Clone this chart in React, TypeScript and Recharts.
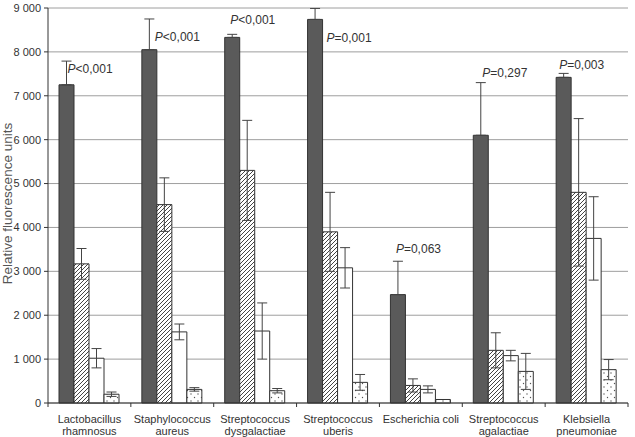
import { BarChart, Bar, XAxis, YAxis, CartesianGrid, ErrorBar, LabelList } from "recharts";

const categories: string[][] = [
  ["Lactobacillus", "rhamnosus"],
  ["Staphylococcus", "aureus"],
  ["Streptococcus", "dysgalactiae"],
  ["Streptococcus", "uberis"],
  ["Escherichia coli"],
  ["Streptococcus", "agalactiae"],
  ["Klebsiella", "pneumoniae"],
];

const solidMean = [7250, 8050, 8330, 8740, 2470, 6100, 7420];
const solidErr = [540, 700, 70, 250, 760, 1200, 90];
const hatchMean = [3170, 4520, 5300, 3900, 400, 1200, 4800];
const hatchErr = [350, 610, 1140, 900, 150, 400, 1680];
const openMean = [1020, 1620, 1640, 3080, 310, 1080, 3750];
const openErr = [220, 180, 640, 460, 80, 120, 950];
const dotMean = [200, 310, 280, 470, 80, 720, 760];
const dotErr = [50, 40, 50, 180, 0, 410, 230];

const pValues = ["<0,001", "<0,001", "<0,001", "=0,001", "=0,063", "=0,297", "=0,003"];

const yTicks = [0, 1000, 2000, 3000, 4000, 5000, 6000, 7000, 8000, 9000];

// where each P label sits relative to the top of the solid bar's whisker
const pLabelShift: [number, number][] = [
  [1, 12], [5.5, 22], [-2, -10], [11.5, 34], [-2, -8], [1.5, -6], [-4.5, -4.5],
];

const data = categories.map((lines, i) => ({
  name: lines.join(" "),
  lines,
  solid: solidMean[i],
  solidErr: [0, solidErr[i]],
  hatch: hatchMean[i],
  hatchErr: hatchErr[i],
  open: openMean[i],
  openErr: openErr[i],
  dot: dotMean[i],
  dotErr: dotErr[i],
}));

const FONT = "'Liberation Sans', Arial, sans-serif";
const INK = "#333";
const W = 635;
const H = 437;
const M = { top: 8, right: 7, left: 0, bottom: 0 };
const Y_AXIS_W = 48;
const BAND = (W - M.left - M.right - Y_AXIS_W) / categories.length;

const fmt = (v: number) => (v >= 1000 ? `${Math.floor(v / 1000)} ${String(v % 1000).padStart(3, "0")}` : String(v));

function CategoryTick(props: any) {
  const { x, y, payload, index } = props;
  const lines: string[] = categories[index] ?? [payload.value];
  const axisY = y - 8;
  return (
    <g>
      <line x1={x - BAND / 2} x2={x - BAND / 2} y1={axisY} y2={axisY + 4} stroke={INK} />
      {index === categories.length - 1 && (
        <line x1={x + BAND / 2} x2={x + BAND / 2} y1={axisY} y2={axisY + 4} stroke={INK} />
      )}
      {lines.map((l, k) => (
        <text key={k} x={x} y={axisY + 20 + k * 12} textAnchor="middle" fontSize={11} fill={INK} fontFamily={FONT}>
          {l}
        </text>
      ))}
    </g>
  );
}

// rotated axis title, its glyph tops running against the page edge
function AxisTitle(props: any) {
  const { viewBox } = props;
  const cy = viewBox.y + viewBox.height / 2 - 2;
  const bx = 12;
  return (
    <text
      x={bx}
      y={cy}
      transform={`rotate(-90, ${bx}, ${cy})`}
      textAnchor="middle"
      fontSize={13.5}
      fill="#555"
      fontFamily={FONT}
    >
      Relative fluorescence units
    </text>
  );
}

function PLabel(props: any) {
  const { x, y, width, height, index } = props;
  const value = solidMean[index];
  const perUnit = height / value;
  const whiskerTop = y - solidErr[index] * perUnit;
  const [dx, dy] = pLabelShift[index];
  return (
    <text x={x + width / 2 + dx} y={whiskerTop + dy} fontSize={12} fill={INK} fontFamily={FONT}>
      <tspan fontStyle="italic">P</tspan>
      {pValues[index]}
    </text>
  );
}

export default function App() {
  return (
    <div style={{ position: "absolute", left: 0, top: 0, background: "#fff" }}>
      <BarChart width={W} height={H} data={data} margin={M} barCategoryGap={11} barGap={0}>
        <defs>
          <pattern id="hatch" patternUnits="userSpaceOnUse" width={4} height={4}>
            <rect width={4} height={4} fill="#fff" />
            <path d="M-1,1 l2,-2 M0,4 l4,-4 M3,5 l2,-2" stroke="#444" strokeWidth={1} />
          </pattern>
          <pattern id="dots" patternUnits="userSpaceOnUse" width={7} height={7}>
            <rect width={7} height={7} fill="#fff" />
            <circle cx={2} cy={2} r={0.7} fill="#555" />
            <circle cx={5.5} cy={5.5} r={0.7} fill="#555" />
          </pattern>
        </defs>
        <CartesianGrid vertical={false} stroke="#9e9e9e" />
        <XAxis
          dataKey="name"
          interval={0}
          tickLine={false}
          axisLine={{ stroke: INK }}
          height={34}
          tick={<CategoryTick />}
        />
        <YAxis
          width={Y_AXIS_W}
          domain={[0, 9000]}
          ticks={yTicks}
          tickFormatter={fmt}
          tickSize={4}
          tickMargin={3}
          axisLine={{ stroke: INK }}
          tickLine={{ stroke: INK }}
          tick={{ fontSize: 11, fill: INK, fontFamily: FONT }}
          label={<AxisTitle />}
        />
        <YAxis yAxisId="frame" orientation="right" width={0} domain={[0, 9000]} tick={false} tickLine={false} axisLine={{ stroke: INK }} />
        <Bar dataKey="solid" fill="#5a5a5a" stroke={INK} isAnimationActive={false}>
          <ErrorBar dataKey="solidErr" width={5} stroke="#444" strokeWidth={1} />
          <LabelList dataKey="solid" content={<PLabel />} />
        </Bar>
        <Bar dataKey="hatch" fill="url(#hatch)" stroke={INK} isAnimationActive={false}>
          <ErrorBar dataKey="hatchErr" width={5} stroke="#444" strokeWidth={1} />
        </Bar>
        <Bar dataKey="open" fill="#fff" stroke={INK} isAnimationActive={false}>
          <ErrorBar dataKey="openErr" width={5} stroke="#444" strokeWidth={1} />
        </Bar>
        <Bar dataKey="dot" fill="url(#dots)" stroke={INK} isAnimationActive={false}>
          <ErrorBar dataKey="dotErr" width={5} stroke="#444" strokeWidth={1} />
        </Bar>
      </BarChart>
    </div>
  );
}
